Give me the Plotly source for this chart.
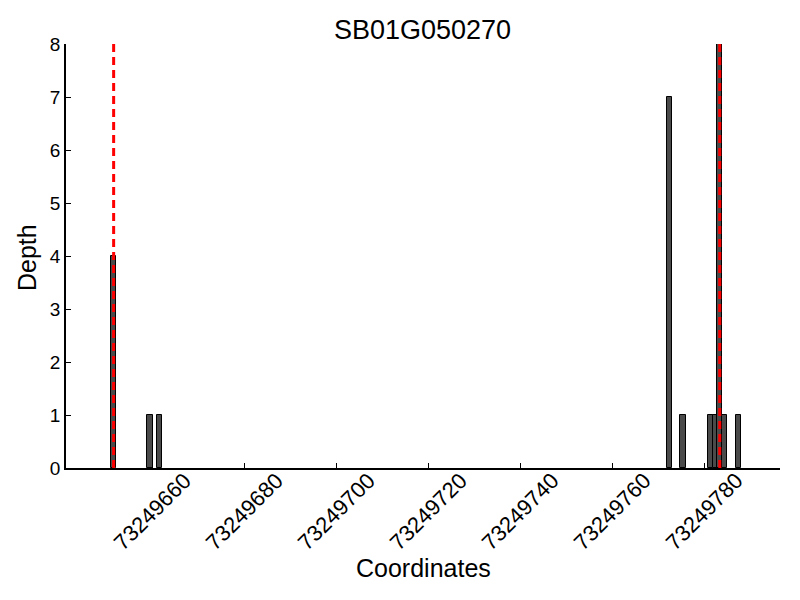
import plotly.graph_objects as go

positions = [73249651.6, 73249659.5, 73249661.5, 73249772.5, 73249775.4,
             73249781.3, 73249782.4, 73249783.4, 73249784.4, 73249787.5]
depths = [4, 1, 1, 7, 1, 1, 1, 8, 1, 1]
marker_positions = [73249651.6, 73249783.4]
tick_values = [73249660, 73249680, 73249700, 73249720, 73249740, 73249760, 73249780]
tick_labels = [str(v) for v in tick_values]
y_ticks = [0, 1, 2, 3, 4, 5, 6, 7, 8]

# page has 8px body margin; figure coordinates are page coordinates minus 8
W, H = 784, 584
L, T, R, B = 58, 36, 12, 124
pw, ph = W - L - R, H - T - B


def px_to_paper(px, py):
    return (px - 8 - L) / pw, (H - B - (py - 8)) / ph


fig = go.Figure()
fig.add_trace(go.Bar(
    x=positions, y=depths, width=1.1,
    marker=dict(color="#4a4a4a", line=dict(color="black", width=1)),
    showlegend=False,
))
for mp in marker_positions:
    fig.add_trace(go.Scatter(
        x=[mp, mp], y=[0, 8], mode="lines",
        line=dict(color="red", width=3, dash="8px,5px"),
        showlegend=False, hoverinfo="skip",
    ))

annotations = []
cx, cy = px_to_paper(423, 568)
annotations.append(dict(text="Coordinates", x=cx, y=cy, xref="paper", yref="paper",
                        showarrow=False, font=dict(size=25),
                        xanchor="center", yanchor="middle"))
dx, dy = px_to_paper(27, 258)
annotations.append(dict(text="Depth", x=dx, y=dy, xref="paper", yref="paper",
                        showarrow=False, font=dict(size=25), textangle=-90,
                        xanchor="center", yanchor="middle"))
_, ly = px_to_paper(0, 511)
for tv, tl in zip(tick_values, tick_labels):
    annotations.append(dict(text=tl, x=tv, y=ly, xref="x", yref="paper",
                            showarrow=False, font=dict(size=22), textangle=-45,
                            xanchor="center", yanchor="middle"))

fig.update_layout(
    width=W, height=H,
    paper_bgcolor="white", plot_bgcolor="white",
    margin=dict(l=L, r=R, t=T, b=B, autoexpand=False),
    font=dict(family="Liberation Sans, Arial, sans-serif", color="black"),
    title=dict(text="SB01G050270", x=(422.5 - 8) / W, xref="container", xanchor="center",
               y=1 - (30 - 8) / H, yref="container", yanchor="middle",
               font=dict(size=27, color="black"), automargin=False),
    bargap=0,
    annotations=annotations,
)

fig.update_xaxes(
    range=[73249641.24, 73249796.5],
    tickvals=tick_values, showticklabels=False,
    ticks="inside", ticklen=5, tickcolor="black",
    showline=True, linecolor="black", linewidth=1.5, mirror=False,
    showgrid=False, zeroline=False, automargin=False,
)
fig.update_yaxes(
    range=[0, 8], tickvals=y_ticks,
    ticks="inside", ticklen=5, tickcolor="black",
    showline=True, linecolor="black", linewidth=1.5, mirror=False,
    showgrid=False, zeroline=False, automargin=False,
    tickfont=dict(size=19),
)

fig.write_html("out.html")
